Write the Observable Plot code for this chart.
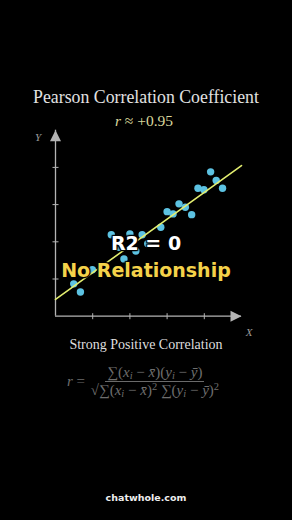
<!DOCTYPE html>
<html>
<head>
<meta charset="utf-8">
<script src="https://cdn.jsdelivr.net/npm/d3@7"></script>
<script src="https://cdn.jsdelivr.net/npm/@observablehq/plot@0.6"></script>
<style>
  html, body { margin: 0; padding: 0; background: #000; }
  #wrap { position: relative; width: 292px; height: 520px; overflow: hidden; background: #000; }
  #wrap svg { position: absolute; left: 0; top: 0; }
  .t { position: absolute; left: 0; width: 292px; text-align: center; white-space: nowrap; }
  .serif { font-family: "Liberation Serif", "DejaVu Serif", serif; }
  .big { font-family: "DejaVu Sans", sans-serif; font-weight: bold; font-size: 19px; line-height: 22px;
         text-shadow: 0 0 2px #000, 0 0 2px #000, 1px 1px 1px #000, -1px -1px 1px #000, 1px -1px 1px #000, -1px 1px 1px #000; }
  .frac { display: inline-flex; flex-direction: column; align-items: center; vertical-align: middle; }
  .frac .num { padding: 0 2px 1px 2px; border-bottom: 1px solid #6a6a6a; }
  .frac .den { padding: 1px 2px 0 2px; }
  sub { font-size: 70%; vertical-align: -2px; line-height: 0; }
  sup { font-size: 70%; vertical-align: 5px; line-height: 0; }
</style>
</head>
<body>
<div id="wrap"></div>
<script>
// ---- data ----
const pointX = [0.49, 0.67, 0.99, 1.50, 1.70, 1.84, 2.00, 2.16, 2.33, 2.48, 2.83, 3.00, 3.16, 3.32, 3.49, 3.66, 3.83, 3.99, 4.17, 4.32, 4.49];
const pointY = [0.87, 0.65, 1.25, 2.19, 1.85, 1.54, 2.21, 1.75, 2.19, 1.95, 2.39, 2.81, 2.75, 3.02, 2.93, 2.73, 3.44, 3.40, 3.88, 3.65, 3.44];
const xTicks = [1, 2, 3, 4];
const yTicks = [1, 2, 3, 4];
const axisMax = 5;
const fitIntercept = 0.45;
const fitSlope = 0.72;

const points = pointX.map((x, i) => ({x, y: pointY[i]}));
const fitLine = [0, axisMax].map(x => ({x, y: fitIntercept + fitSlope * x}));

const axisColor = "#b4b4b4";
const vTick = {draw(ctx, size) { const r = Math.sqrt(size / Math.PI); ctx.moveTo(0, -r); ctx.lineTo(0, r); }};
const hTick = {draw(ctx, size) { const r = Math.sqrt(size / Math.PI); ctx.moveTo(-r, 0); ctx.lineTo(r, 0); }};
const triRight = {draw(ctx) { ctx.moveTo(0, 0); ctx.lineTo(-11, -5.5); ctx.lineTo(-11, 5.5); ctx.closePath(); }};
const triUp = {draw(ctx) { ctx.moveTo(0, 0); ctx.lineTo(-5.5, 11); ctx.lineTo(5.5, 11); ctx.closePath(); }};

const chart = Plot.plot({
  width: 292,
  height: 520,
  marginLeft: 55,
  marginRight: 51,
  marginTop: 129.7,
  marginBottom: 204.3,
  x: {domain: [0, axisMax], axis: null},
  y: {domain: [0, axisMax], axis: null},
  style: {background: "transparent"},
  marks: [
    Plot.ruleY([0], {x1: 0, x2: axisMax, stroke: axisColor, strokeWidth: 1.3}),
    Plot.ruleX([0], {y1: 0, y2: axisMax, stroke: axisColor, strokeWidth: 1.3}),
    Plot.dot(xTicks, {x: d => d, y: 0, symbol: vTick, r: 3, fill: "none", stroke: axisColor, strokeWidth: 1}),
    Plot.dot(yTicks, {x: 0, y: d => d, symbol: hTick, r: 3, fill: "none", stroke: axisColor, strokeWidth: 1}),
    Plot.dot([axisMax], {x: d => d, y: 0, symbol: triRight, fill: axisColor, stroke: "none"}),
    Plot.dot([axisMax], {x: 0, y: d => d, symbol: triUp, fill: axisColor, stroke: "none"}),
    Plot.dot(points, {x: "x", y: "y", r: 3.7, fill: "#5cc2e2", stroke: "none"}),
    Plot.line(fitLine, {x: "x", y: "y", stroke: "#e3ee70", strokeWidth: 1.6})
  ]
});

const wrap = document.getElementById("wrap");
wrap.appendChild(chart);

function addText(html, cls, style) {
  const d = document.createElement("div");
  d.className = "t " + cls;
  d.setAttribute("style", style);
  d.innerHTML = html;
  wrap.appendChild(d);
}

addText("Pearson Correlation Coefficient", "serif", "top:87px;font-size:17.8px;line-height:20px;color:#e2e2e2;");
addText("<i>r</i> ≈ +0.95", "serif", "top:112px;left:-2px;font-size:15.5px;line-height:18px;color:#d9d79c;");
addText("<i>Y</i>", "serif", "top:131px;left:32px;width:12px;font-size:11px;line-height:12px;color:#9a9a9a;");
addText("<i>X</i>", "serif", "top:326px;left:243px;width:12px;font-size:11px;line-height:12px;color:#9a9a9a;");
addText("R2 = 0", "big", "top:232px;color:#ffffff;");
addText("No Relationship", "big", "top:259px;color:#f4d24a;");
addText("Strong Positive Correlation", "serif", "top:336px;font-size:14px;line-height:17px;color:#dedede;");
addText(
  '<span style="vertical-align:middle"><i>r</i> = </span>' +
  '<span class="frac"><span class="num">∑(<i>x<sub>i</sub></i> − <i>x̄</i>)(<i>y<sub>i</sub></i> − <i>ȳ</i>)</span>' +
  '<span class="den">√∑(<i>x<sub>i</sub></i> − <i>x̄</i>)<sup>2</sup> ∑(<i>y<sub>i</sub></i> − <i>ȳ</i>)<sup>2</sup></span></span>',
  "serif", "top:365px;left:-2px;font-size:15px;line-height:15px;color:#6e6e6e;");
addText("chatwhole.com", "", "top:492px;font-family:'DejaVu Sans',sans-serif;font-weight:bold;font-size:9.5px;line-height:12px;color:#eeeeee;");
</script>
</body>
</html>
